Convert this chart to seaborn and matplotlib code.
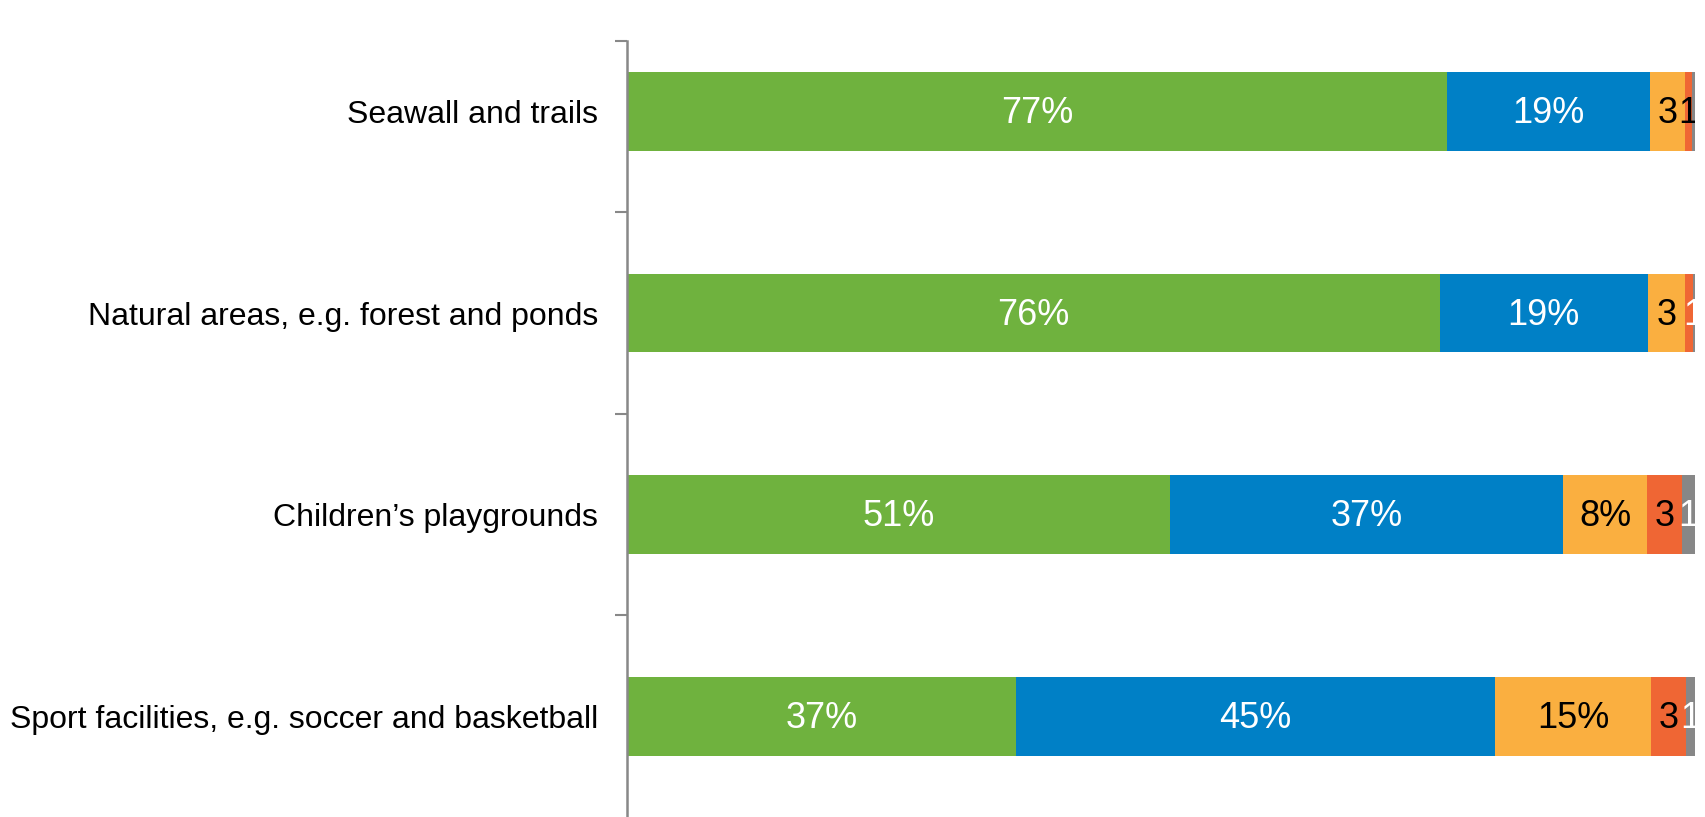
import matplotlib
matplotlib.use("Agg")
import matplotlib.pyplot as plt
import numpy as np
import pandas as pd
import seaborn as sns

categories = ["Seawall and trails", "Natural areas, e.g. forest and ponds",
              "Children\u2019s playgrounds", "Sport facilities, e.g. soccer and basketball"]
series = ["s1", "s2", "s3", "s4", "s5"]
green = [76.8, 76.1, 50.8, 36.4]
blue = [19.0, 19.5, 36.9, 44.9]
orange = [3.3, 3.5, 7.8, 14.6]
red = [0.6, 0.7, 3.3, 3.3]
grey = [0.3, 0.2, 1.2, 0.8]
labels = [["77%", "76%", "51%", "37%"],
          ["19%", "19%", "37%", "45%"],
          ["3", "3", "8%", "15%"],
          ["1", "", "3", "3"],
          ["", "1", "1", "1"]]
colors = ["#6FB23E", "#0080C6", "#FAAF40", "#EF6634", "#878787"]
text_colors = ["white", "white", "black", "black", "white"]

sns.set_style("white")
plt.rcParams["font.family"] = ["Liberation Sans", "DejaVu Sans"]

vals = np.array([green, blue, orange, red, grey])
cum = vals.cumsum(axis=0)

fig = plt.figure(figsize=(17.05, 8.17), dpi=100)
ax = fig.add_axes([0.368, 0.0, 0.626, 0.95])

# stacked: draw cumulative totals, biggest first
for i in range(len(series) - 1, -1, -1):
    df = pd.DataFrame({"cat": categories, "val": cum[i]})
    sns.barplot(data=df, x="val", y="cat", color=colors[i], saturation=1,
                width=0.39, orient="h", ax=ax, edgecolor="none")

for i in range(len(series)):
    left = cum[i] - vals[i]
    for j in range(len(categories)):
        if labels[i][j]:
            ax.text(left[j] + vals[i][j] / 2, j + 0.01, labels[i][j], ha="center", va="center",
                    fontsize=26, color=text_colors[i], clip_on=True)

ax.set_xlim(0, 100)
ax.set_ylim(3.5, -0.35)
ax.set_xlabel("")
ax.set_ylabel("")
ax.set_xticks([])
ax.set_yticks(range(len(categories)))
ax.set_yticklabels(categories, fontsize=23, color="black")
ax.tick_params(axis="y", which="major", length=0, pad=21)
ax.set_yticks([-0.35, 0.5, 1.5, 2.5], minor=True)
ax.tick_params(axis="y", which="minor", left=True, length=9, width=1.5,
               color="#888888", direction="out")
for s in ["top", "right", "bottom"]:
    ax.spines[s].set_visible(False)
ax.spines["left"].set_color("#888888")
ax.spines["left"].set_linewidth(1.8)

fig.savefig("out.png", dpi=100)
